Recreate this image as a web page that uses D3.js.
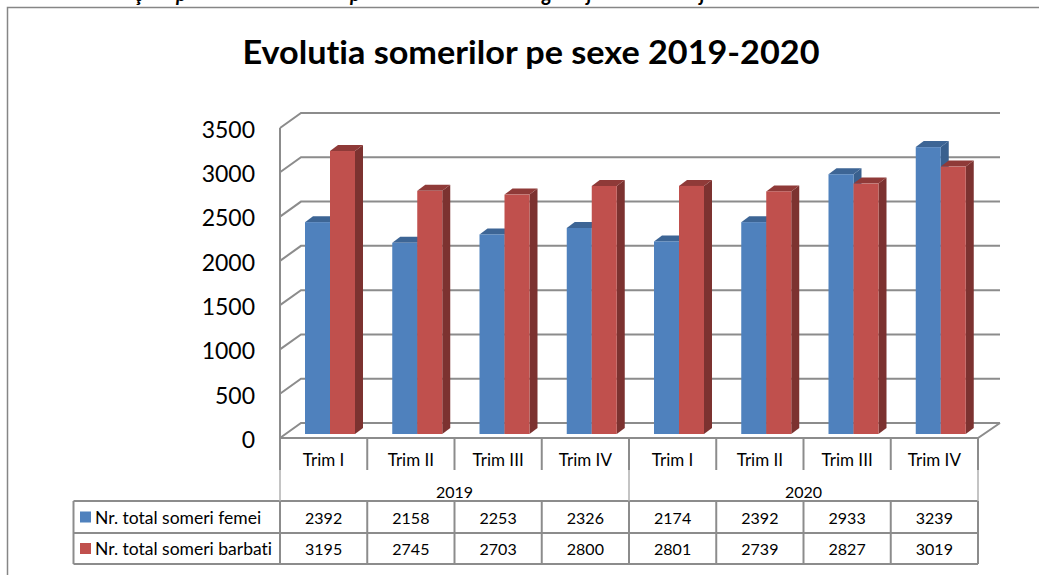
<!DOCTYPE html>
<html>
<head>
<meta charset="utf-8">
<script src="https://cdn.jsdelivr.net/npm/d3@7"></script>
<style>
  html, body { margin: 0; padding: 0; background: #fff; overflow: hidden; }
  text { font-family: Lato, "Open Sans", sans-serif; fill: #000; font-variant-ligatures: none; }
</style>
</head>
<body>
<svg id="chart"></svg>
<script>
const width = 1039;
const height = 575;

const title = "Evolutia somerilor pe sexe 2019-2020";
const years = ["2019", "2020"];
const quarters = ["Trim I", "Trim II", "Trim III", "Trim IV"];
const femei = [2392, 2158, 2253, 2326, 2174, 2392, 2933, 3239];
const barbati = [3195, 2745, 2703, 2800, 2801, 2739, 2827, 3019];
const yTicks = [0, 500, 1000, 1500, 2000, 2500, 3000, 3500];
const seriesNames = ["Nr. total someri femei", "Nr. total someri barbati"];
const seriesColors = ["#4f81bd", "#c0504d"];
const sideColors = ["#39608e", "#7c3230"];
const topColors = ["#3d6595", "#8f3a38"];
// only the bottoms of this line of page text show above the chart
const cutText = [["ţ", 135], ["p", 176], ["p", 350], ["g", 542], ["j", 587], ["j", 700]];

const gridColor = "#8c8c8c";
const left = 280, right = 978, floorY = 438, topY = 128;
const backX = 21, backY = -15;
const depthX = 8, depthY = -6;

let svg = d3.select("#chart")
  .attr("width", width)
  .attr("height", height);

const slots = d3.range(8);
const x = d3.scaleBand().domain(slots).range([left, right]);
const y = d3.scaleLinear().domain([0, 3500]).range([floorY, topY]);
// bars stand a little in front of the axis plane
const yBar = d3.scaleLinear().domain([0, 3500]).range([floorY - 4, topY - 4]);
const barW = 25;
const barX = (i, s) => x(i) + 25 + s * barW;

// page text cut off by the top edge
svg.selectAll("text.cut").data(cutText).enter().append("text")
  .attr("class", "cut")
  .attr("x", d => d[1])
  .attr("y", 1)
  .attr("font-size", 20)
  .attr("font-style", "italic")
  .attr("font-weight", "bold")
  .text(d => d[0]);

// chart frame, only top and left are in the crop
svg.append("path")
  .attr("d", `M7.5,${height} V7.5 H${width}`)
  .attr("fill", "none")
  .attr("stroke", "#868686")
  .attr("stroke-width", 1.5);

svg.append("text")
  .attr("x", 531)
  .attr("y", 64)
  .attr("text-anchor", "middle")
  .attr("font-size", 33)
  .attr("font-weight", "bold")
  .attr("textLength", 577)
  .attr("lengthAdjust", "spacingAndGlyphs")
  .text(title);

// walls
let walls = svg.append("g")
  .attr("fill", "none")
  .attr("stroke", gridColor)
  .attr("stroke-width", 2);

walls.selectAll("path.grid").data(yTicks).enter().append("path")
  .attr("class", "grid")
  .attr("d", d => `M${left},${y(d)} L${left + backX},${y(d) + backY} H${right + backX + 1}`);

walls.append("path")
  .attr("d", `M${left},${topY} V${floorY} H${right} L${right + backX + 1},${floorY + backY}`);

// bars
let groups = svg.selectAll("g.slot").data(slots).enter().append("g").attr("class", "slot");

[femei, barbati].forEach((values, s) => {
  groups.append("polygon")
    .attr("fill", sideColors[s])
    .attr("points", i => {
      const x1 = barX(i, s) + barW, y0 = yBar(0), y1 = yBar(values[i]);
      return [[x1, y0], [x1 + depthX, y0 + depthY], [x1 + depthX, y1 + depthY], [x1, y1]].join(" ");
    });
  groups.append("polygon")
    .attr("fill", topColors[s])
    .attr("points", i => {
      const x0 = barX(i, s), y1 = yBar(values[i]);
      return [[x0, y1], [x0 + depthX, y1 + depthY], [x0 + barW + depthX, y1 + depthY], [x0 + barW, y1]].join(" ");
    });
  groups.append("rect")
    .attr("fill", seriesColors[s])
    .attr("x", i => barX(i, s))
    .attr("y", i => yBar(values[i]))
    .attr("width", barW)
    .attr("height", i => yBar(0) - yBar(values[i]));
});

// y axis, labels only
let yAxis = svg.append("g")
  .attr("transform", "translate(255,2)")
  .call(d3.axisLeft(y).tickValues(yTicks).tickSize(0).tickPadding(0).tickFormat(d3.format("d")));
yAxis.select(".domain").remove();
yAxis.selectAll("text")
  .attr("font-size", 23)
  .style("font-family", "Lato");

// data table under the chart
const tableLeft = 73.5;
const rowY = [501, 533, 564];
const tickBottom = 470;
let table = svg.append("g")
  .attr("stroke", gridColor)
  .attr("stroke-width", 2)
  .attr("fill", "none");

table.selectAll("line.row").data(rowY).enter().append("line")
  .attr("class", "row")
  .attr("x1", tableLeft).attr("x2", right)
  .attr("y1", d => d).attr("y2", d => d);

table.append("line")
  .attr("x1", tableLeft).attr("x2", tableLeft)
  .attr("y1", rowY[0]).attr("y2", rowY[2]);

const edges = d3.range(9).map(i => left + i * x.bandwidth());
table.selectAll("line.col").data(edges).enter().append("line")
  .attr("class", "col")
  .attr("x1", d => d).attr("x2", d => d)
  .attr("y1", floorY).attr("y2", tickBottom);

table.selectAll("line.cell").data(edges).enter().append("line")
  .attr("class", "cell")
  .attr("x1", d => d).attr("x2", d => d)
  .attr("y1", rowY[0]).attr("y2", rowY[2]);

// year separators run down through the gap
table.selectAll("line.year").data([edges[0], edges[4], edges[8]]).enter().append("line")
  .attr("class", "year")
  .attr("x1", d => d).attr("x2", d => d)
  .attr("y1", tickBottom).attr("y2", rowY[0])
  .attr("stroke-width", 1.5)
  .attr("stroke", "#b0b0b0");

const center = i => x(i) + x.bandwidth() / 2;
const label = (sel, size) => sel
  .attr("text-anchor", "middle")
  .attr("dominant-baseline", "central")
  .attr("font-size", size);

svg.selectAll("text.quarter").data(slots).enter().append("text")
  .attr("class", "quarter")
  .attr("x", center)
  .attr("y", 459)
  .call(label, 17)
  .text(i => quarters[i % 4]);

svg.selectAll("text.yearLabel").data(years).enter().append("text")
  .attr("class", "yearLabel")
  .attr("x", (d, i) => left + (i * 4 + 2) * x.bandwidth())
  .attr("y", 491)
  .call(label, 16)
  .text(d => d);

[femei, barbati].forEach((values, s) => {
  const cy = (rowY[s] + rowY[s + 1]) / 2;
  svg.append("rect")
    .attr("x", 80)
    .attr("y", cy - 5.5)
    .attr("width", 11)
    .attr("height", 11)
    .attr("fill", seriesColors[s]);
  svg.append("text")
    .attr("x", 95)
    .attr("y", cy)
    .attr("dominant-baseline", "central")
    .attr("font-size", 17.5)
    .text(seriesNames[s]);
  svg.selectAll("text.v" + s).data(values).enter().append("text")
    .attr("class", "v" + s)
    .attr("x", (d, i) => center(i))
    .attr("y", cy)
    .call(label, 16)
    .text(d => d);
});
</script>
</body>
</html>
